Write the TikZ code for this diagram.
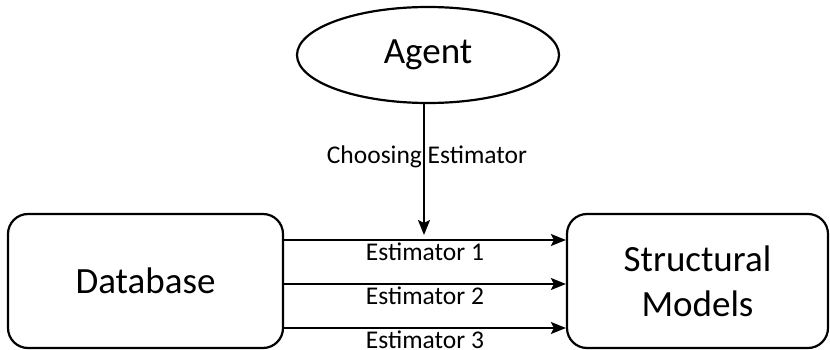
\documentclass[tikz,border=0pt]{standalone}
\usepackage{fontspec}
\setmainfont{Carlito}
\usetikzlibrary{shapes.geometric,arrows.meta}
\begin{document}
\begin{tikzpicture}[x=1pt,y=-1pt,
  box/.style={draw,line width=2.2pt,rounded corners=20pt,inner sep=0pt},
  big/.style={font=\fontsize{37}{45}\selectfont},
  small/.style={font=\fontsize{25.5}{30}\selectfont},
  conn/.style={line width=2pt,-{Stealth[length=15pt,width=12pt,inset=3pt]}}]
\useasboundingbox (0,0) rectangle (830,350);
\node[draw,ellipse,line width=2.2pt,minimum width=262pt,minimum height=96pt,inner sep=0pt,big] (agent) at (428,55) {Agent};
\node[box,minimum width=275pt,minimum height=134pt,big] (db) at (145.5,281) {Database};
\node[box,minimum width=261pt,minimum height=134pt,big,align=center] (sm) at (697.5,281) {Structural\\Models};
\coordinate (tip) at (424,235);
\draw[conn] (agent.south -| tip) -- (tip);
\node[small,inner sep=0pt] (choose) at (427,157) {Choosing Estimator};
\draw[conn] (db.east |- 0,240) -- (sm.west |- 0,240) node[midway,below,small,inner sep=1.5pt] (e1) {Estimator 1};
\draw[conn] (db.east |- 0,284) -- (sm.west |- 0,284) node[midway,below,small,inner sep=1.5pt] (e2) {Estimator 2};
\draw[conn] (db.east |- 0,328) -- (sm.west |- 0,328) node[midway,below,small,inner sep=1.5pt] (e3) {Estimator 3};
\end{tikzpicture}
\end{document}
